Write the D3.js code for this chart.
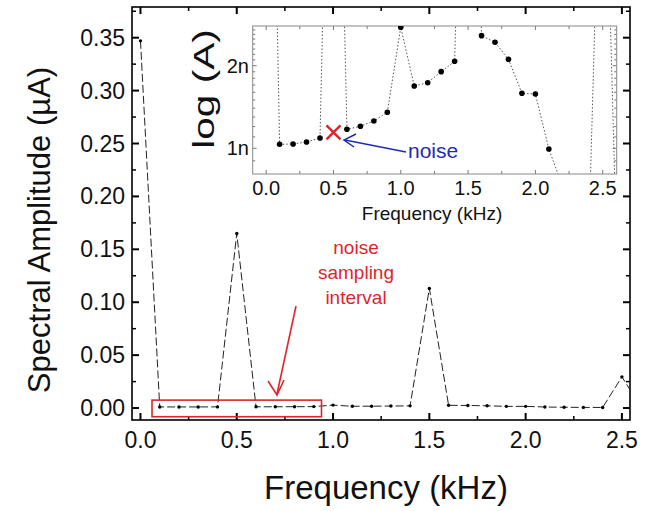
<!DOCTYPE html>
<html><head><meta charset="utf-8">
<script src="https://cdn.jsdelivr.net/npm/d3@7"></script>
<style>body{margin:0;background:#fff}svg{display:block}text{font-family:"Liberation Sans",Arial,sans-serif}</style>
</head><body><svg id="c" width="665" height="511"></svg>
<script>
// Frequencies (kHz)
const freqs = [0.0,0.1,0.2,0.3,0.4,0.5,0.6,0.7,0.8,0.9,1.0,1.1,1.2,1.3,1.4,1.5,1.6,1.7,1.8,1.9,2.0,2.1,2.2,2.3,2.4,2.5,2.6];
// Spectral amplitude in nA (main chart labels in µA)
const amplitudeNA = [347,1.034,1.037,1.054,1.090,165,1.173,1.203,1.257,1.353,2.76,1.687,1.734,1.902,2.075,113,2.573,2.434,2.110,1.586,1.577,0.994,0.73,0.6,0.55,29.5,0.5];
// Noise estimate marker
const noiseFreq = [0.5];
const noiseNA = [1.144];
// Tick values
const mainXTicks = [0.0,0.5,1.0,1.5,2.0,2.5];
const mainYTicksNA = [0,50,100,150,200,250,300,350];
const insetXTicks = [0.0,0.5,1.0,1.5,2.0,2.5];
const insetYTicks = [1,2];
const insetYLabels = ["1n","2n"];
const annotationLines = ["noise","sampling","interval"];

const data = freqs.map((f,i)=>({f, a: amplitudeNA[i]}));
const svg = d3.select("#c");

// ---------- main chart ----------
const L=132,R=630,T=7,B=420;
const x = d3.scaleLinear().domain([-0.044,2.542]).range([L,R]);
const y = d3.scaleLinear().domain([-11.3,379]).range([B,T]);

svg.append("clipPath").attr("id","mclip").append("rect").attr("x",L).attr("y",T).attr("width",R-L).attr("height",B-T);

const g = svg.append("g");
d3.range(0, 2.55, 0.25).forEach(v=>{
  const major = Math.abs(v*2-Math.round(v*2))<1e-6;
  const len = major?7:4;
  g.append("line").attr("x1",x(v)).attr("x2",x(v)).attr("y1",B).attr("y2",B-len).attr("stroke","#000").attr("stroke-width",major?2:1.5);
  g.append("line").attr("x1",x(v)).attr("x2",x(v)).attr("y1",T).attr("y2",T+len).attr("stroke","#000").attr("stroke-width",major?2:1.5);
});
d3.range(0, 376, 25).forEach(v=>{
  const major = v%50===0;
  const len = major?7:4;
  g.append("line").attr("y1",y(v)).attr("y2",y(v)).attr("x1",L).attr("x2",L+len).attr("stroke","#000").attr("stroke-width",major?2:1.5);
  g.append("line").attr("y1",y(v)).attr("y2",y(v)).attr("x1",R).attr("x2",R-len).attr("stroke","#000").attr("stroke-width",major?2:1.5);
});
g.append("rect").attr("x",L).attr("y",T).attr("width",R-L).attr("height",B-T).attr("fill","none").attr("stroke","#000").attr("stroke-width",1.6);

g.selectAll(".xl").data(mainXTicks).enter().append("text")
  .attr("x",d=>x(d)).attr("y",448).attr("text-anchor","middle").attr("font-size",23).attr("fill","#111").text(d=>d.toFixed(1));
g.selectAll(".yl").data(mainYTicksNA).enter().append("text")
  .attr("x",125).attr("y",d=>y(d)+8).attr("text-anchor","end").attr("font-size",23).attr("fill","#111").text(d=>(d/1000).toFixed(2));
svg.append("text").attr("x",386).attr("y",499).attr("text-anchor","middle").attr("font-size",33).attr("fill","#111").text("Frequency (kHz)");
svg.append("text").attr("transform","translate(50,230) rotate(-90)").attr("text-anchor","middle").attr("font-size",31).attr("fill","#111").text("Spectral Amplitude (µA)");

const mline = d3.line().x(d=>x(d.f)).y(d=>y(d.a));
const mg = svg.append("g").attr("clip-path","url(#mclip)");
mg.append("path").datum(data).attr("d",mline).attr("fill","none").attr("stroke","#222").attr("stroke-width",1).attr("stroke-dasharray","8,3");
mg.selectAll(".md").data(data).enter().append("circle").attr("cx",d=>x(d.f)).attr("cy",d=>y(d.a)).attr("r",1.7).attr("fill","#000");

svg.append("rect").attr("x",x(0.06)).attr("y",y(7.5)).attr("width",x(0.94)-x(0.06)).attr("height",y(-8.2)-y(7.5))
  .attr("fill","none").attr("stroke","#d9262b").attr("stroke-width",1.6);
svg.selectAll(".ann").data(annotationLines).enter().append("text")
  .attr("x",356).attr("y",(d,i)=>254+i*25).attr("text-anchor","middle").attr("font-size",19).attr("fill","#e0252b").text(d=>d);
svg.append("line").attr("x1",296).attr("y1",306).attr("x2",277).attr("y2",394).attr("stroke","#e0252b").attr("stroke-width",1.6);
svg.append("path").attr("d","M268,381 L277,395 L284,380").attr("fill","none").attr("stroke","#e0252b").attr("stroke-width",1.6);

// ---------- inset ----------
const iL=252.7,iR=616.7,iT=26,iB=174;
const xi = d3.scaleLinear().domain([-0.1,2.604]).range([iL,iR]);
const yi = d3.scaleLog().domain([0.806,2.79]).range([iB,iT]);
svg.append("clipPath").attr("id","iclip").append("rect").attr("x",iL).attr("y",iT).attr("width",iR-iL).attr("height",iB-iT);
const ig = svg.append("g");
ig.append("rect").attr("x",iL).attr("y",iT).attr("width",iR-iL).attr("height",iB-iT).attr("fill","#fff");
d3.range(0,2.55,0.25).forEach(v=>{
  const major = Math.abs(v*2-Math.round(v*2))<1e-6;
  const len = major?4:3;
  ig.append("line").attr("x1",xi(v)).attr("x2",xi(v)).attr("y1",iB).attr("y2",iB-len).attr("stroke","#777").attr("stroke-width",1);
  ig.append("line").attr("x1",xi(v)).attr("x2",xi(v)).attr("y1",iT).attr("y2",iT+len).attr("stroke","#777").attr("stroke-width",1);
});
d3.range(0.9,2.75,0.1).forEach(v=>{
  const major = Math.abs(v-Math.round(v))<1e-6;
  const len = major?4:2.5;
  ig.append("line").attr("y1",yi(v)).attr("y2",yi(v)).attr("x1",iL).attr("x2",iL+len).attr("stroke","#777").attr("stroke-width",1);
  ig.append("line").attr("y1",yi(v)).attr("y2",yi(v)).attr("x1",iR).attr("x2",iR-len).attr("stroke","#777").attr("stroke-width",1);
});
ig.append("rect").attr("x",iL).attr("y",iT).attr("width",iR-iL).attr("height",iB-iT).attr("fill","none").attr("stroke","#888").attr("stroke-width",1);
ig.selectAll(".ixl").data(insetXTicks).enter().append("text")
  .attr("x",d=>xi(d)).attr("y",195).attr("text-anchor","middle").attr("font-size",20).attr("fill","#111").text(d=>d.toFixed(1));
ig.selectAll(".iyl").data(insetYTicks).enter().append("text")
  .attr("x",249).attr("y",d=>yi(d)+7).attr("text-anchor","end").attr("font-size",20).attr("fill","#111").text((d,i)=>insetYLabels[i]);
svg.append("text").attr("x",432).attr("y",220).attr("text-anchor","middle").attr("font-size",19).attr("fill","#111").text("Frequency (kHz)");
svg.append("text").attr("transform","translate(214,89) rotate(-90) scale(1.4,1)").attr("text-anchor","middle").attr("font-size",29).attr("fill","#111").text("log (A)");

const iline = d3.line().x(d=>xi(d.f)).y(d=>yi(d.a));
const ic = svg.append("g").attr("clip-path","url(#iclip)");
ic.append("path").datum(data).attr("d",iline).attr("fill","none").attr("stroke","#555").attr("stroke-width",1).attr("stroke-dasharray","1.5,2");
ic.selectAll(".id").data(data.filter(d=>d.a>=0.806 && d.a<=2.79)).enter().append("circle")
  .attr("cx",d=>xi(d.f)).attr("cy",d=>yi(d.a)).attr("r",2.8).attr("fill","#000");
const nx = xi(noiseFreq[0]), ny = yi(noiseNA[0]);
svg.append("path").attr("d",`M${nx-7},${ny-7}L${nx+7},${ny+7}M${nx-7},${ny+7}L${nx+7},${ny-7}`).attr("stroke","#e0252b").attr("stroke-width",2.5);
svg.append("line").attr("x1",406).attr("y1",152).attr("x2",345).attr("y2",140).attr("stroke","#1f2bb0").attr("stroke-width",1.5);
svg.append("path").attr("d","M356,134 L344,140 L354,147").attr("fill","none").attr("stroke","#1f2bb0").attr("stroke-width",1.5);
svg.append("text").attr("x",408).attr("y",158).attr("font-size",21).attr("fill","#1f2bb0").text("noise");
</script></body></html>
